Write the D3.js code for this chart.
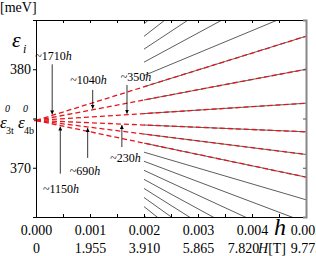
<!DOCTYPE html>
<html>
<head>
<meta charset="utf-8">
<script src="https://cdn.jsdelivr.net/npm/d3@7"></script>
<style>
  body { margin: 0; background: #fff; }
  svg { display: block; font-family: "Liberation Serif", "Times New Roman", serif; }
  .tick text { font-size: 14px; fill: #000; font-family: "Liberation Serif", "Times New Roman", serif; }
</style>
</head>
<body>
<div id="chart"></div>
<script>
// energy at h = 0 (degenerate level) [meV]
var eps0 = 374.8;
// fitted slopes ~k*h of the red dashed lines [meV per unit h]
var redSlopes = [1710, 1040, 350, -230, -690, -1150];
// slopes of the calculated levels (black), drawn from h = 0.002
var blackSlopes = [4900, 4270, 3620, 2960, 2280, 1710, 1040, 350, -230, -690, -1150,
  -1610, -2070, -2530, -2990, -3450, -3910, -4370, -4830];
var blackStart = 0.002;
var hTicks = [0, 0.001, 0.002, 0.003, 0.004, 0.005];
var hMinor = [0, 0.0005, 0.001, 0.0015, 0.002, 0.0025, 0.003, 0.0035, 0.004, 0.0045, 0.005];
var HLabels = ['0', '1.955', '3.910', '5.865', '7.820', '9.775'];
var yTicks = [370, 375, 380];
var yLabelled = [370, 380];
// annotations: slope, arrow position h, arrow tail energy, label position
var notes = [
  {k: 1710, h: 0.0003, tail: 380.5, lh: 0.000324, le: 380.94, txt: '~1710'},
  {k: 1040, h: 0.00105, tail: 377.9, lh: 0.000972, le: 378.5, txt: '~1040'},
  {k: 350, h: 0.001685, tail: 378.4, lh: 0.00185, le: 378.8, txt: '~350'},
  {k: -1150, h: 0.00045, tail: 369.4, lh: 0.000463, le: 367.44, txt: '~1150'},
  {k: -690, h: 0.000957, tail: 371.0, lh: 0.000907, le: 369.26, txt: '~690'},
  {k: -230, h: 0.00159, tail: 372.1, lh: 0.001657, le: 370.58, txt: '~230'}
];

var W = 316, H = 256;
var margin = {top: 20, right: 10, bottom: 39, left: 36};
var width = W - margin.left - margin.right,
    height = H - margin.top - margin.bottom;

var x = d3.scaleLinear().domain([0, 0.005]).range([0, width]);
var y = d3.scaleLinear().domain([365, 385]).range([height, 0]);

var svg = d3.select('#chart').append('svg')
  .attr('width', W)
  .attr('height', H);

var defs = svg.append('defs');
defs.append('clipPath').attr('id', 'plot')
  .append('rect').attr('width', width).attr('height', height);
defs.append('marker')
  .attr('id', 'head')
  .attr('viewBox', '0 0 10 10')
  .attr('refX', 10).attr('refY', 5)
  .attr('markerWidth', 4).attr('markerHeight', 4)
  .attr('markerUnits', 'userSpaceOnUse')
  .attr('orient', 'auto')
  .append('path').attr('d', 'M0,0L10,5L0,10Z').attr('fill', '#000');

var g = svg.append('g')
  .attr('transform', 'translate(' + margin.left + ',' + margin.top + ')');

var lines = g.append('g').attr('clip-path', 'url(#plot)');

// black calculated levels
lines.selectAll('.lev')
  .data(blackSlopes)
  .enter().append('line')
    .attr('class', 'lev')
    .attr('x1', x(blackStart))
    .attr('y1', k => y(eps0 + k * blackStart))
    .attr('x2', x(0.005))
    .attr('y2', k => y(eps0 + k * 0.005))
    .attr('stroke', '#333')
    .attr('stroke-width', 0.8);

// red dashed fits
lines.selectAll('.fit')
  .data(redSlopes)
  .enter().append('line')
    .attr('class', 'fit')
    .attr('x1', x(0))
    .attr('y1', y(eps0))
    .attr('x2', x(0.005))
    .attr('y2', k => y(eps0 + k * 0.005))
    .attr('stroke', '#e8141b')
    .attr('stroke-width', 1.3)
    .attr('stroke-dasharray', '5,3');

// short red stub left of the axis
g.append('line')
  .attr('x1', -2).attr('x2', 0)
  .attr('y1', y(eps0)).attr('y2', y(eps0))
  .attr('stroke', '#e8141b').attr('stroke-width', 1.5);

// axes
var fmt = d3.format('.3f');
g.append('g')
  .attr('transform', 'translate(0,' + height + ')')
  .call(d3.axisBottom(x).tickValues(hMinor).tickSize(-3).tickFormat(''))
  .call(a => a.select('.domain').attr('stroke', '#000'));
g.append('g')
  .attr('transform', 'translate(0,' + height + ')')
  .call(d3.axisBottom(x).tickValues(hTicks).tickSize(0).tickPadding(8).tickFormat(fmt))
  .call(a => a.select('.domain').remove());
var row2 = g.append('g')
  .attr('transform', 'translate(0,' + (height + 18) + ')')
  .call(d3.axisBottom(x).tickValues(hTicks).tickSize(0).tickPadding(8)
    .tickFormat((d, i) => HLabels[i]))
  .call(a => a.select('.domain').remove());
row2.selectAll('.tick text').filter((d, i) => i === 4).attr('dx', -9);

g.append('g')
  .call(d3.axisTop(x).tickValues(hMinor).tickSize(-3).tickFormat(''))
  .call(a => a.select('.domain').attr('stroke', '#000'));

g.append('g')
  .call(d3.axisLeft(y).tickValues(yTicks).tickSize(3).tickPadding(2)
    .tickFormat(d => yLabelled.indexOf(d) >= 0 ? d : ''))
  .call(a => a.select('.domain').attr('stroke', '#000'));

g.append('g')
  .attr('transform', 'translate(' + width + ',0)')
  .call(d3.axisRight(y).tickValues(yTicks).tickSize(-3).tickFormat(''))
  .call(a => a.select('.domain').attr('stroke', '#888').attr('stroke-width', 2))
  .call(a => a.selectAll('.tick line').attr('stroke', '#555'));

// annotations
var ann = g.append('g');
ann.selectAll('.arr')
  .data(notes)
  .enter().append('line')
    .attr('x1', d => x(d.h)).attr('x2', d => x(d.h))
    .attr('y1', d => y(d.tail))
    .attr('y2', d => y(eps0 + d.k * d.h) + (d.k > 0 ? -1 : 1))
    .attr('stroke', '#000')
    .attr('stroke-width', 0.8)
    .attr('marker-end', 'url(#head)');
var lab = ann.selectAll('.lab')
  .data(notes)
  .enter().append('text')
    .attr('x', d => x(d.lh))
    .attr('y', d => y(d.le))
    .attr('text-anchor', 'middle')
    .attr('font-size', 12);
lab.append('tspan').text(d => d.txt);
lab.append('tspan').attr('font-style', 'italic').text('h');

// axis titles
svg.append('text').attr('x', 0).attr('y', 12).attr('font-size', 14).text('[meV]');
svg.append('text').attr('x', 12).attr('y', 47).attr('font-size', 22).attr('font-style', 'italic').text('\u03b5');
svg.append('text').attr('x', 23).attr('y', 53).attr('font-size', 12).attr('font-style', 'italic').text('i');

var e0 = [{x: 0, sub: '3t'}, {x: 18, sub: '4b'}];
e0.forEach(function(e) {
  svg.append('text').attr('x', e.x).attr('y', 128).attr('font-size', 17).attr('font-style', 'italic').text('\u03b5');
  svg.append('text').attr('x', e.x + 5).attr('y', 112).attr('font-size', 10).attr('font-style', 'italic').text('0');
  svg.append('text').attr('x', e.x + 6).attr('y', 134).attr('font-size', 10).text(e.sub);
});

svg.append('text').attr('x', 274).attr('y', 235).attr('font-size', 24).attr('font-style', 'italic').text('h');
var HT = svg.append('text').attr('x', 258).attr('y', 253).attr('font-size', 14);
HT.append('tspan').attr('font-style', 'italic').text('H');
HT.append('tspan').text('[T]');
</script>
</body>
</html>
